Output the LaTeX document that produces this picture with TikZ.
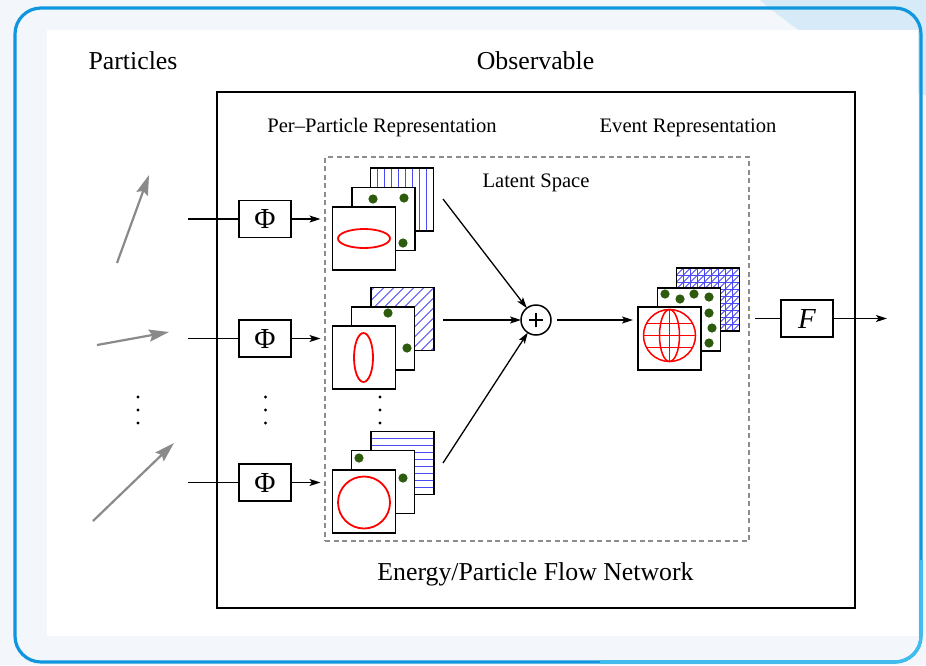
\documentclass[tikz,border=0pt]{standalone}
\usepackage{fontspec}
\setmainfont{Liberation Serif}
\usetikzlibrary{arrows.meta,calc}

\definecolor{pagebg}{HTML}{F3F6FA}
\definecolor{glow}{HTML}{D6EAF8}
\definecolor{frameA}{HTML}{1096DE}
\definecolor{frameB}{HTML}{3DBDF0}
\definecolor{hatchblue}{HTML}{4A4AF5}
\definecolor{dotgreen}{HTML}{2E5C0E}
\definecolor{partgray}{HTML}{8A8A8A}
\definecolor{dashgray}{HTML}{8C8C8C}

\newcommand\labbig{\fontsize{25.8pt}{30pt}\selectfont}
\newcommand\labsmall{\fontsize{20.6pt}{24pt}\selectfont}
\newcommand\labsym{\fontsize{29pt}{32pt}\selectfont}

\begin{document}
\begin{tikzpicture}[x=1pt,y=-1pt,
  net/.style={draw, line width=2pt, inner sep=0pt, outer sep=0pt,
    minimum width=638pt, minimum height=516pt},
  latent/.style={draw=dashgray, line width=1.3pt, dash pattern=on 5pt off 3.5pt,
    inner sep=0pt, outer sep=0pt, minimum width=424pt, minimum height=384pt},
  opbox/.style={draw, line width=1.6pt, inner sep=0pt, outer sep=0pt,
    minimum width=52pt, minimum height=37pt, font=\labsym},
  sq/.style={draw, line width=1.6pt, fill=white, inner sep=0pt, outer sep=0pt,
    minimum size=63pt},
  flow/.style={line width=1.3pt, -{Stealth[length=11pt,width=7pt,inset=2.5pt]}},
  wire/.style={line width=1.3pt},
  particle/.style={draw=partgray, line width=2.2pt,
    -{Stealth[length=20pt,width=12pt,inset=3pt]}},
  hatchline/.style={draw=hatchblue, line width=0.9pt},
  ring/.style={draw=red, line width=1.8pt},
  seed/.style={fill=dotgreen},
  vdot/.style={fill=black},
]
\useasboundingbox (0,0) rectangle (926,665);

% page background and soft glow at the top right
\fill[pagebg] (0,0) rectangle (926,665);
\begin{scope}
  \clip (0,0) rectangle (926,665);
  \fill[glow] (1100,-400) circle (525pt);
\end{scope}

% rounded card frame, turning lighter towards the lower right corner
\draw[frameA, line width=3.2pt, rounded corners=26pt] (15,8) rectangle (921,662);
\begin{scope}
  \clip (600,560) rectangle (926,665);
  \draw[frameB, line width=3.2pt, rounded corners=26pt] (15,8) rectangle (921,662);
\end{scope}

% white panel
\fill[white] (47,30) rectangle (918,636);

% titles
\node[font=\labbig] (lblparticles) at (133,61) {Particles};
\node[font=\labbig] (lblobs) at (535.5,61) {Observable};

% network frame and latent space
\node[net] (efn) at (536,350) {};
\node[latent] (lat) at (537,349) {};
\node[font=\labsmall] (lblper) at (382,128) {Per–Particle Representation};
\node[font=\labsmall] (lblevt) at (688,128) {Event Representation};
\node[font=\labsmall] (lbllat) at (536,183) {Latent Space};
\node[font=\labbig] (lblefn) at (535.5,574) {Energy/Particle Flow Network};

% incoming particles
\coordinate (p1s) at (117,263); \coordinate (p1e) at (149,175);
\coordinate (p2s) at (97,345);  \coordinate (p2e) at (169,332);
\coordinate (p3s) at (93,521);  \coordinate (p3e) at (174,443);
\draw[particle] (p1s) -- (p1e);
\draw[particle] (p2s) -- (p2e);
\draw[particle] (p3s) -- (p3e);

% per-particle maps Phi
\node[opbox] (phi1) at (265,219) {Φ};
\node[opbox] (phi2) at (265,338.5) {Φ};
\node[opbox] (phi3) at (265,482.5) {Φ};

% stacks of latent feature maps
\node[sq] (back1) at (402,199.5) {};
\node[sq] (back2) at (402.5,319) {};
\node[sq] (back3) at (402.5,463) {};
\node[sq] (back4) at (708,299.5) {};

\begin{scope}
  \clip (back1.north west) rectangle (back1.south east);
  \foreach \k in {1,...,8}
    \draw[hatchline] ($(back1.north west)+(7*\k,0)$) -- ($(back1.south west)+(7*\k,0)$);
\end{scope}
\begin{scope}
  \clip (back2.north west) rectangle (back2.south east);
  \foreach \k in {-7,...,7}
    \draw[hatchline] ($(back2.south west)+(10*\k,0)$) -- ($(back2.south west)+(10*\k+80,-80)$);
\end{scope}
\begin{scope}
  \clip (back3.north west) rectangle (back3.south east);
  \foreach \k in {1,...,8}
    \draw[hatchline] ($(back3.north west)+(0,7*\k)$) -- ($(back3.north east)+(0,7*\k)$);
\end{scope}
\begin{scope}
  \clip (back4.north west) rectangle (back4.south east);
  \foreach \k in {1,...,8} {
    \draw[hatchline] ($(back4.north west)+(7*\k,0)$) -- ($(back4.south west)+(7*\k,0)$);
    \draw[hatchline] ($(back4.north west)+(0,7*\k)$) -- ($(back4.north east)+(0,7*\k)$);
  }
  \foreach \k in {-10,...,10}
    \draw[hatchline] ($(back4.south west)+(7*\k,0)$) -- ($(back4.south west)+(7*\k+80,-80)$);
\end{scope}
\foreach \b in {back1,back2,back3,back4}
  \draw[line width=1.6pt] (\b.north west) rectangle (\b.south east);

\node[sq] (mid1) at (383.5,219) {};
\node[sq] (mid2) at (383,338.5) {};
\node[sq] (mid3) at (383,482) {};
\node[sq] (mid4) at (689,319.5) {};

\foreach \p in {(373,199),(404,198),(403,243),
                (388,313),(407,348),
                (359,458),(403,478),
                (665,294),(680,299),(694,294),(709,297),(709,313),(712,328),(709,343)}
  \fill[seed] \p circle (4.6pt);

\node[sq] (front1) at (364,238.5) {};
\node[sq] (front2) at (364,357.5) {};
\node[sq] (front3) at (364,501.5) {};
\node[sq] (front4) at (669.5,338.5) {};

\draw[ring] (front1.center) ellipse (26pt and 9.5pt);
\draw[ring] ($(front2.center)+(-0.5,0)$) ellipse (9.5pt and 24.5pt);
\draw[ring] ($(front3.center)+(0,1)$) circle (26pt);
\begin{scope}[shift={($(front4.center)+(0,-3)$)}]
  \draw[ring, line width=1.5pt] (0,0) circle (26pt);
  \draw[ring, line width=1.5pt] (0,0) ellipse (10pt and 26pt);
  \draw[ring, line width=1.5pt] (-26,0) -- (26,0) (0,-26) -- (0,26);
  \draw[ring, line width=1.5pt] (-23,-12) -- (23,-12) (-23,12) -- (23,12);
\end{scope}

% ellipsis dots
\foreach \x in {138,265.5,380}
  \foreach \y in {397,410,423}
    \fill[vdot] (\x,\y) circle (1.6pt);

% inputs into Phi and into the latent maps
\coordinate (in1) at (188,219);
\coordinate (in2) at (188,338.5);
\coordinate (in3) at (188,482.5);
\draw[wire] (in1) -- (phi1.west);
\draw[wire] (in2) -- (phi2.west);
\draw[wire] (in3) -- (phi3.west);
\draw[flow, shorten >=12pt] (phi1.east) -- (phi1.east -| front1.west);
\draw[flow, shorten >=12pt] (phi2.east) -- (phi2.east -| front2.west);
\draw[flow, shorten >=12pt] (phi3.east) -- (phi3.east -| front3.west);

% summation
\node[circle, draw, line width=1.5pt, minimum size=30pt, inner sep=0pt, outer sep=0pt,
  path picture={
    \draw[line width=1.2pt] ([xshift=-7pt]path picture bounding box.center) -- ([xshift=7pt]path picture bounding box.center);
    \draw[line width=1.2pt] ([yshift=-7pt]path picture bounding box.center) -- ([yshift=7pt]path picture bounding box.center);
  }] (sum) at (536,320) {};
\coordinate (s1) at (443,199);
\coordinate (s2) at (443,320);
\coordinate (s3) at (443,463);
\draw[flow] (s1) -- (sum);
\draw[flow] (s2) -- (sum);
\draw[flow] (s3) -- (sum);
\draw[flow, shorten <=6pt, shorten >=5pt] (sum.east) -- (sum.east -| front4.west);

% observable F
\node[opbox] (fnode) at (807,318.5) {\textit{F}};
\coordinate (fin) at (755,318.5);
\coordinate (fout) at (887,318.5);
\draw[wire] (fin) -- (fnode.west);
\draw[flow] (fnode.east) -- (fout);
\end{tikzpicture}
\end{document}
